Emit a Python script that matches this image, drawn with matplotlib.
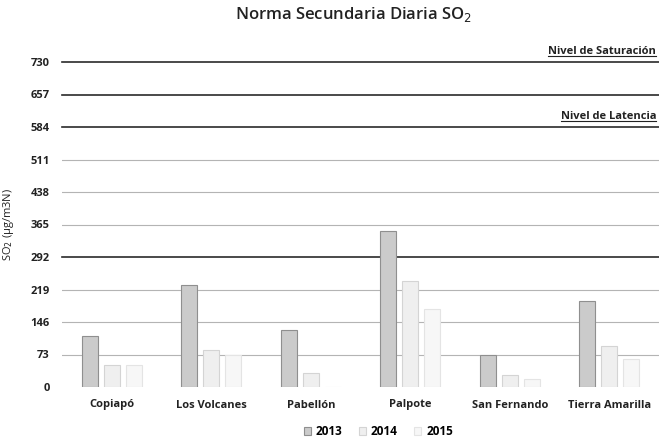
import matplotlib.pyplot as plt
import numpy as np

plt.rcParams['font.family'] = ['Open Sans', 'DejaVu Sans']

# data
estaciones = ['Copiapó', 'Los Volcanes', 'Pabellón', 'Palpote', 'San Fernando', 'Tierra Amarilla']
anios = ['2013', '2014', '2015']
so2_2013 = [115, 229, 127, 350, 72, 193]
so2_2014 = [50, 82, 31, 238, 26, 93]
so2_2015 = [49, 71, 0, 175, 19, 63]
yticks = [0, 73, 146, 219, 292, 365, 438, 511, 584, 657, 730]
lineas_fuertes = [292, 584, 657, 730]
niveles = {'Nivel de Saturación': 730, 'Nivel de Latencia': 584}

fig = plt.figure(figsize=(6.59, 4.38), dpi=100)
ax = fig.add_axes([62 / 659, 1 - 387 / 438, 597 / 659, 325 / 438])

x = np.arange(len(estaciones))
w = 0.16
step = 0.22
colores = ['#cbcbcb', '#efefef', '#f7f7f7']
bordes = ['#8f8f8f', '#d4d4d4', '#e4e4e4']
series = [so2_2013, so2_2014, so2_2015]

# grid lines
for y in yticks:
    if y == 0:
        continue
    if y in lineas_fuertes:
        ax.axhline(y, color='#2a2a2a', lw=1.2, zorder=1, clip_on=False)
    else:
        ax.axhline(y, color='#b4b4b4', lw=0.8, zorder=1)

for i, (vals, c, e) in enumerate(zip(series, colores, bordes)):
    ax.bar(x + (i - 1) * step, vals, width=w, color=c, edgecolor=e, lw=0.8,
           label=anios[i], zorder=2)

ax.set_xlim(-0.5, len(estaciones) - 0.5)
ax.set_ylim(0, 730)

etiquetas = []
for txt, y in niveles.items():
    t = ax.text(0.995, y + 12, txt, transform=ax.get_yaxis_transform(), ha='right',
                va='bottom', fontsize=8, fontweight='bold', color='#222222')
    etiquetas.append(t)

ax.set_yticks(yticks)
ax.set_yticklabels([str(v) for v in yticks], fontsize=8, fontweight='bold', color='#222222')
ax.set_xticks(x)
ax.set_xticklabels(estaciones, fontsize=8, fontweight='bold', color='#222222')
ax.tick_params(length=0, pad=9)
for s in ax.spines.values():
    s.set_visible(False)

ax.set_ylabel('SO$_2$ (µg/m3N)', fontsize=8, color='#222222', labelpad=10)
fig.text(0.536, 0.967, 'Norma Secundaria Diaria SO$_2$', ha='center', va='center',
         fontsize=12, fontweight='semibold', color='#222222')

ax.legend(loc='upper center', bbox_to_anchor=(0.53, -0.085), ncol=3, frameon=False,
          handlelength=0.6, handleheight=0.6, handletextpad=0.4,
          columnspacing=1.4, prop={'weight': 'bold', 'size': 8.5})

# underline the level labels
fig.canvas.draw()
r = fig.canvas.get_renderer()
inv = ax.transData.inverted()
for t in etiquetas:
    bb = t.get_window_extent(r)
    (x0, y0), (x1, _) = inv.transform([(bb.x0, bb.y0 + 1), (bb.x1, bb.y0 + 1)])
    ax.plot([x0, x1], [y0, y0], color='#222222', lw=0.8, zorder=3, clip_on=False)

fig.savefig('out.png', dpi=100)
